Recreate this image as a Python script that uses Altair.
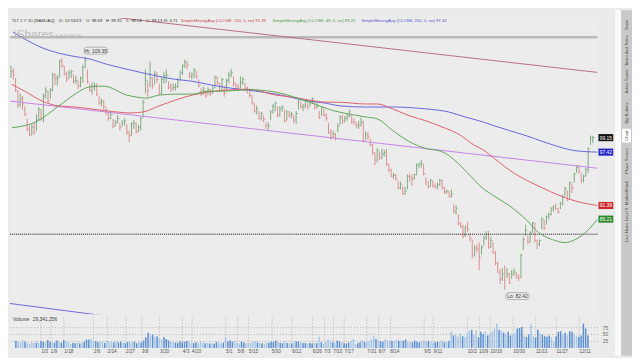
import altair as alt
import numpy as np
import pandas as pd

# ---------------- trading calendar (x categories) ----------------
HOLIDAYS = ["2022-12-26", "2023-01-02", "2023-01-16", "2023-02-20", "2023-04-07",
            "2023-05-29", "2023-06-19", "2023-07-04", "2023-09-04", "2023-11-23"]
DAYS = pd.bdate_range("2022-12-15", "2023-12-15")
DAYS = DAYS[~DAYS.isin(pd.to_datetime(HOLIDAYS))]

LABEL_DATES = ["2023-01-03", "2023-01-09", "2023-01-18", "2023-02-06", "2023-02-14", "2023-02-27",
               "2023-03-08", "2023-03-20", "2023-04-03", "2023-04-10", "2023-05-01", "2023-05-08",
               "2023-05-15", "2023-05-30", "2023-06-12", "2023-06-26", "2023-07-03", "2023-07-10",
               "2023-07-17", "2023-07-31", "2023-08-07", "2023-08-14", "2023-09-05", "2023-09-11",
               "2023-10-02", "2023-10-09", "2023-10-16", "2023-10-30", "2023-11-13", "2023-11-27",
               "2023-12-11"]

# ---------------- daily bars: high / low / close ----------------
HIGH_DEC22 = [108.2, 107.9, 106.6, 105.0, 104.6, 104.3, 103.0, 101.5, 100.6, 100.8, 100.9]
LOW_DEC22 = [106.6, 106.4, 104.8, 102.8, 102.9, 102.6, 101.8, 99.9, 99.3, 99.4, 99.5]
CLOSE_DEC22 = [107.4, 107.0, 105.0, 103.2, 104.0, 103.3, 102.0, 100.2, 99.5, 100.4, 99.8]

HIGH_JAN = [102.0, 102.9, 102.6, 104.6, 105.4, 104.9, 105.3, 107.3, 107.2, 107.0, 109.0, 109.2, 108.2, 107.4, 107.6, 107.7, 107.1, 106.9, 106.2, 106.8]
LOW_JAN = [100.0, 101.2, 101.2, 101.0, 104.0, 103.4, 103.9, 104.9, 105.7, 105.6, 106.7, 107.9, 106.9, 106.1, 106.5, 106.6, 105.9, 105.8, 105.2, 105.4]
CLOSE_JAN = [101.3, 102.6, 101.5, 104.3, 104.9, 103.7, 105.1, 107.0, 106.5, 106.6, 108.8, 108.2, 107.2, 106.5, 107.3, 107.4, 106.2, 106.3, 105.6, 106.6]

HIGH_FEB = [108.3, 109.35, 107.7, 105.8, 106.0, 106.0, 105.9, 104.3, 104.0, 103.8, 102.9, 102.3, 102.3, 101.4, 101.3, 101.9, 100.9, 101.3, 101.5]
LOW_FEB = [106.0, 107.9, 105.9, 104.8, 104.5, 105.0, 104.3, 103.2, 103.0, 102.6, 101.9, 101.2, 101.4, 100.3, 100.5, 100.9, 100.0, 100.5, 100.6]
CLOSE_FEB = [108.0, 108.9, 106.1, 105.0, 105.5, 105.6, 104.5, 103.4, 103.6, 103.0, 102.3, 101.5, 102.0, 100.5, 101.0, 101.5, 100.4, 101.0, 101.2]

HIGH_MAR = [100.8, 100.0, 101.0, 101.3, 101.0, 100.7, 101.7, 103.8, 107.7, 106.2, 108.8, 106.8, 107.5, 107.4, 105.9, 106.7, 107.4, 107.7, 106.2, 105.9, 105.9, 105.9, 106.6]
LOW_MAR = [99.5, 98.6, 99.4, 100.2, 99.6, 99.8, 100.0, 101.6, 104.6, 104.2, 105.4, 105.2, 105.8, 106.0, 104.4, 104.5, 105.9, 106.0, 105.1, 104.8, 105.0, 105.0, 105.3]
CLOSE_MAR = [99.8, 99.4, 100.8, 100.9, 99.9, 100.4, 101.5, 103.5, 106.3, 105.0, 106.6, 105.7, 107.1, 106.4, 104.6, 106.4, 106.9, 107.0, 105.4, 105.3, 105.4, 105.5, 106.4]

HIGH_APR = [107.6, 108.4, 109.0, 108.8, 107.4, 107.3, 107.9, 107.5, 106.4, 105.3, 105.5, 105.0, 105.4, 105.2, 105.6, 106.9, 106.8, 106.0, 106.6]
LOW_APR = [106.2, 107.0, 107.9, 107.7, 106.6, 106.4, 106.6, 106.5, 105.4, 104.3, 104.5, 104.1, 104.4, 104.3, 104.6, 105.3, 105.7, 104.8, 105.0]
CLOSE_APR = [107.3, 108.2, 108.7, 108.3, 106.8, 107.0, 107.6, 106.8, 105.6, 104.5, 105.2, 104.3, 105.1, 104.6, 105.3, 106.7, 106.0, 105.0, 106.4]

HIGH_MAY = [105.6, 106.5, 107.4, 107.8, 106.8, 106.0, 105.8, 106.8, 106.7, 106.0, 105.5, 105.0, 104.4, 103.4, 103.1, 102.4, 102.3, 101.9, 101.0, 101.0, 102.5, 103.3]
LOW_MAY = [104.2, 104.9, 105.9, 106.7, 105.5, 105.1, 104.9, 105.3, 105.7, 104.9, 104.6, 104.1, 103.2, 102.2, 102.0, 101.3, 101.2, 101.0, 100.2, 100.0, 101.3, 102.1]
CLOSE_MAY = [104.6, 106.3, 107.0, 107.3, 105.9, 105.6, 105.3, 106.0, 106.4, 105.3, 105.1, 104.4, 103.5, 102.4, 102.7, 101.5, 102.1, 101.4, 100.6, 100.6, 102.3, 103.0]

HIGH_JUN = [103.6, 103.0, 103.0, 103.1, 102.6, 102.5, 102.4, 102.3, 101.9, 102.4, 103.8, 103.6, 103.3, 103.8, 103.4, 103.8, 104.1, 103.6, 103.4, 102.4, 103.0]
LOW_JUN = [102.4, 101.6, 101.7, 102.3, 101.0, 101.2, 101.6, 101.5, 100.9, 100.8, 102.6, 102.7, 102.4, 102.8, 102.6, 103.0, 103.3, 102.6, 102.7, 101.4, 101.8]
CLOSE_JUN = [103.4, 101.9, 102.7, 102.9, 101.1, 102.3, 101.9, 102.0, 101.3, 102.1, 103.7, 102.9, 103.0, 103.6, 102.9, 103.6, 104.0, 102.8, 103.0, 101.6, 102.9]

HIGH_JUL = [102.7, 102.1, 100.9, 100.2, 100.0, 99.7, 100.9, 101.9, 101.9, 101.8, 102.1, 102.6, 101.9, 101.5, 101.0, 101.2, 101.6, 101.2, 99.9, 99.8]
LOW_JUL = [101.7, 101.2, 99.6, 98.9, 99.1, 98.8, 99.8, 100.7, 100.8, 101.0, 101.2, 101.6, 100.8, 100.7, 100.3, 100.2, 100.5, 98.6, 98.9, 98.9]
CLOSE_JUL = [101.9, 101.5, 99.8, 99.1, 99.6, 99.0, 100.5, 101.6, 101.2, 101.5, 101.8, 102.3, 101.1, 101.0, 100.6, 100.7, 101.0, 98.8, 99.6, 99.2]

HIGH_AUG = [99.0, 98.4, 97.4, 97.9, 97.5, 97.8, 97.7, 97.8, 96.1, 95.5, 95.0, 94.9, 94.1, 94.0, 93.5, 93.4, 94.8, 94.9, 94.8, 94.9, 96.1, 96.2, 96.5]
LOW_AUG = [98.1, 97.1, 95.9, 96.2, 96.5, 96.6, 96.9, 95.8, 95.1, 94.5, 94.3, 94.1, 93.1, 93.1, 92.5, 92.5, 93.1, 94.0, 93.5, 94.2, 94.7, 95.5, 95.6]
CLOSE_AUG = [98.3, 97.3, 96.5, 97.6, 96.7, 97.2, 97.4, 96.0, 95.3, 94.6, 94.7, 94.3, 93.3, 93.7, 92.6, 92.9, 94.6, 94.5, 94.3, 94.8, 95.9, 96.0, 96.1]

HIGH_SEP = [96.0, 94.5, 94.0, 94.3, 94.1, 93.8, 93.9, 94.3, 94.2, 93.4, 93.1, 92.9, 93.1, 91.4, 91.3, 90.3, 89.5, 89.2, 89.1, 89.5]
LOW_SEP = [94.7, 93.6, 93.2, 93.4, 93.3, 93.2, 93.1, 93.5, 93.1, 92.6, 92.6, 92.2, 92.2, 90.4, 90.3, 89.1, 88.8, 87.7, 87.9, 88.4]
CLOSE_SEP = [94.9, 94.0, 93.4, 94.1, 93.5, 93.4, 93.6, 94.1, 93.3, 92.8, 92.9, 92.3, 92.6, 90.6, 91.0, 89.3, 89.0, 88.0, 88.9, 88.7]

HIGH_OCT = [88.3, 87.6, 87.0, 87.1, 87.3, 87.0, 88.0, 88.5, 88.5, 87.9, 87.3, 86.4, 85.3, 84.5, 84.6, 84.9, 84.6, 84.1, 84.4, 84.6, 84.2, 84.0]
LOW_OCT = [87.4, 85.6, 85.8, 86.2, 84.4, 86.0, 87.0, 87.6, 86.6, 86.7, 86.1, 84.9, 84.1, 83.0, 83.3, 82.42, 83.6, 83.0, 83.5, 83.8, 83.5, 83.3]
CLOSE_OCT = [87.7, 86.0, 86.7, 86.6, 85.7, 86.8, 87.7, 88.2, 86.8, 87.5, 86.2, 85.1, 84.2, 83.5, 84.0, 83.4, 84.0, 83.1, 84.0, 84.2, 83.7, 83.6]

HIGH_NOV = [86.1, 87.9, 89.2, 88.0, 88.5, 89.5, 89.4, 87.6, 87.6, 90.0, 89.7, 90.2, 90.5, 91.1, 91.3, 91.5, 91.0, 91.7, 92.5, 93.4, 93.0]
LOW_NOV = [83.6, 86.5, 88.0, 87.1, 87.3, 88.3, 87.3, 86.6, 86.9, 88.7, 88.6, 89.2, 89.8, 90.2, 90.6, 90.8, 90.4, 90.9, 91.3, 92.4, 91.8]
CLOSE_NOV = [85.9, 87.6, 88.6, 87.3, 88.3, 89.4, 87.5, 87.1, 87.5, 89.8, 88.8, 90.1, 90.3, 91.0, 91.2, 91.0, 90.6, 91.5, 92.3, 93.2, 92.0]

HIGH_DEC = [94.0, 93.8, 95.0, 95.9, 95.9, 95.0, 94.8, 95.6, 98.0, 99.4, 99.35]
LOW_DEC = [92.0, 92.7, 93.9, 95.0, 94.9, 93.8, 93.9, 94.6, 95.0, 98.3, 98.5]
CLOSE_DEC = [93.9, 93.3, 94.9, 95.6, 95.2, 94.2, 94.6, 95.4, 97.8, 99.1, 99.15]

# ---------------- daily volume (millions) ----------------
VOL_DEC22 = [25, 22, 20, 27, 23, 18, 14, 20, 18, 19, 17]
VOL_JAN = [24, 22, 19, 28, 21, 20, 19, 27, 22, 19, 28, 24, 21, 15, 18, 17, 20, 16, 18, 22]
VOL_FEB = [30, 29, 32, 22, 24, 20, 22, 21, 18, 25, 22, 23, 19, 24, 20, 22, 18, 17, 21]
VOL_MAR = [24, 20, 22, 17, 23, 19, 26, 38, 55, 45, 48, 40, 42, 35, 30, 38, 32, 27, 22, 20, 19, 18, 24]
VOL_APR = [20, 22, 25, 22, 18, 17, 20, 18, 22, 19, 17, 18, 16, 17, 15, 22, 18, 17, 19]
VOL_MAY = [38, 24, 28, 22, 25, 17, 16, 23, 19, 18, 17, 18, 20, 24, 20, 18, 17, 16, 20, 18, 22, 21]
VOL_JUN = [26, 22, 18, 17, 22, 18, 17, 16, 20, 24, 23, 20, 18, 17, 16, 18, 16, 19, 17, 40, 20]
VOL_JUL = [14, 22, 30, 26, 20, 18, 27, 24, 20, 17, 16, 19, 22, 32, 15, 17, 20, 28, 22, 21]
VOL_AUG = [24, 30, 42, 32, 25, 24, 22, 30, 28, 26, 25, 24, 30, 26, 27, 25, 30, 22, 21, 20, 26, 22, 20]
VOL_SEP = [24, 25, 22, 26, 21, 19, 20, 22, 23, 27, 20, 22, 25, 58, 45, 48, 40, 52, 42, 38]
VOL_OCT = [55, 62, 65, 48, 62, 38, 58, 50, 60, 45, 52, 60, 70, 88, 65, 62, 55, 50, 58, 45, 50, 55]
VOL_NOV = [70, 72, 75, 45, 40, 48, 85, 42, 38, 65, 52, 48, 42, 40, 45, 38, 22, 42, 58, 60, 48]
VOL_DEC = [55, 45, 60, 58, 50, 42, 40, 45, 88, 70, 45]

# ---------------- moving averages ----------------
MA50_AT = [0.4, 10.9, 20.6, 27.7, 33.2, 37.4, 40.3, 50.0, 54.2, 58.4, 63.9, 71.0, 78.2, 84.9, 92.0,
           102.5, 114.3, 128.6, 139.5, 147.9, 152.9, 158.0, 164.7, 171.8, 179.0, 185.7, 192.9, 198.3,
           203.4, 208.4, 215.1, 222.3, 227.7, 233.6, 239.1, 243.3, 248.7, 253.0]
MA50_VAL = [100.35, 101.08, 103.04, 104.53, 105.41, 105.54, 105.54, 104.41, 104.16, 104.03, 104.41, 104.53,
            104.53, 104.91, 104.91, 105.1, 104.78, 103.53, 102.42, 101.93, 101.68, 101.44, 100.0, 98.68,
            97.85, 97.50, 96.10, 94.61, 93.26, 92.36, 91.26, 89.73, 88.33, 87.59, 87.28, 87.59, 88.55, 89.8]
MA100_AT = [0.4, 6.7, 13.4, 20.6, 27.7, 34.5, 41.6, 52.1, 57.1, 63.9, 71.0, 78.2, 84.9, 92.0, 102.5,
            114.3, 121.4, 128.6, 135.3, 142.4, 152.9, 158.0, 164.7, 171.8, 179.0, 185.7, 192.9, 200.0,
            203.4, 208.4, 215.1, 222.3, 229.4, 236.1, 243.3, 253.0]
MA100_VAL = [105.79, 104.78, 103.66, 103.04, 102.91, 102.67, 102.42, 102.17, 102.30, 103.04, 103.78, 104.41,
             104.78, 105.03, 105.16, 104.41, 104.16, 103.78, 103.53, 103.5, 103.29, 103.29, 102.67, 101.82,
             101.20, 100.47, 99.61, 98.22, 97.73, 96.70, 95.30, 94.16, 93.26, 92.47, 91.81, 91.3]
MA200_AT = [0.8, 13.4, 27.7, 33.2, 41.6, 52.1, 63.9, 71.0, 78.2, 84.9, 92.0, 102.5, 114.3, 128.6, 135.3,
            142.4, 152.9, 164.7, 179.0, 188.7, 195.8, 203.4, 208.4, 215.1, 222.3, 229.4, 236.1, 243.3, 253.0]
MA200_VAL = [112.74, 110.60, 109.41, 109.15, 108.37, 107.60, 106.81, 106.43, 106.18, 105.79, 105.41, 105.03,
             104.53, 103.66, 103.41, 103.04, 102.91, 102.91, 102.67, 102.30, 101.68, 101.08, 100.59, 100.0,
             99.38, 98.68, 98.08, 97.59, 97.42]

# ---------------- drawn trend lines / levels ----------------
TREND_PURPLE_AT = [-0.42, 253.0]
TREND_PURPLE_VAL = [103.66, 95.53]
TREND_DARKRED_AT = [-0.42, 253.0]
TREND_DARKRED_VAL = [116.44, 107.33]
TREND_BLUE_AT = [-0.42, 41.6]
TREND_BLUE_VAL = [81.05, 79.81]
LEVEL_GRAY = 112.0
LEVEL_DOTTED = 88.17

Y_TICKS = [113.42, 111.4, 109.48, 107.48, 105.54, 103.66, 101.82, 100, 98.22, 96.47, 94.75, 93.06,
           91.39, 89.77, 88.17, 86.6, 85.05, 83.54, 82.05, 80.58]

ANNOT_TEXT = ["Hi: 109.35", "Lo: 82.42"]
ANNOT_AT = [36.6, 218.5]
ANNOT_PRICE = [110.2, 81.78]

TAG_TEXT = ["99.15", "97.42", "91.39", "89.21"]
TAG_PRICE = [99.15, 97.42, 91.3, 89.8]

HEADER_ITEMS = ["TLT 1 Y 1D [NASDAQ]", "D: 12/13/23", "O: 98.69", "H: 99.35", "L: 98.58", "C: 99.13", "R: 0.71"]
HEADER_X = [2, 50, 77, 97, 118, 138, 156]
HEADER_MA = ["SimpleMovingAvg (CLOSE, 100, 0, no)  91.39",
             "SimpleMovingAvg (CLOSE, 49, 0, no)  89.21",
             "SimpleMovingAvg (CLOSE, 200, 0, no)  97.42"]
HEADER_MA_X = [173, 266, 356]
TABS = ["Trade", "Times And Sales", "Active Trader", "Big Buttons", "Chart", "Phase Scores",
        "MarketWatch", "Level II", "Live News"]
TAB_Y = [7, 33, 64, 96, 119, 145, 177, 199, 217]
VOLUME_TEXT = "29,341,256"

# ---------------- assemble ----------------
HIGH = HIGH_DEC22 + HIGH_JAN + HIGH_FEB + HIGH_MAR + HIGH_APR + HIGH_MAY + HIGH_JUN + HIGH_JUL + HIGH_AUG + HIGH_SEP + HIGH_OCT + HIGH_NOV + HIGH_DEC
LOW = LOW_DEC22 + LOW_JAN + LOW_FEB + LOW_MAR + LOW_APR + LOW_MAY + LOW_JUN + LOW_JUL + LOW_AUG + LOW_SEP + LOW_OCT + LOW_NOV + LOW_DEC
CLOSE = CLOSE_DEC22 + CLOSE_JAN + CLOSE_FEB + CLOSE_MAR + CLOSE_APR + CLOSE_MAY + CLOSE_JUN + CLOSE_JUL + CLOSE_AUG + CLOSE_SEP + CLOSE_OCT + CLOSE_NOV + CLOSE_DEC
VOLUME = VOL_DEC22 + VOL_JAN + VOL_FEB + VOL_MAR + VOL_APR + VOL_MAY + VOL_JUN + VOL_JUL + VOL_AUG + VOL_SEP + VOL_OCT + VOL_NOV + VOL_DEC

n = min(len(DAYS), len(HIGH), len(LOW), len(CLOSE), len(VOLUME))
df = pd.DataFrame({"i": np.arange(n), "high": HIGH[:n], "low": LOW[:n], "close": CLOSE[:n], "vol": VOLUME[:n]})
prev = df["close"].shift(1).fillna(df["close"])
df["dir"] = np.where(df["close"] >= prev, "up", "down")

day_list = list(DAYS[:n])
tick_idx, tick_txt = [], []
for d in LABEL_DATES:
    ts = pd.Timestamp(d)
    if ts in day_list:
        tick_idx.append(day_list.index(ts))
        tick_txt.append(f"{ts.month}/{ts.day}")
label_expr = "''"
for k, t in zip(reversed(tick_idx), reversed(tick_txt)):
    label_expr = f"datum.value == {k} ? '{t}' : ({label_expr})"

# ---------------- styling ----------------
PRICE_W, PRICE_H, VOL_H = 595, 300, 32
X_DOMAIN = [-0.42, 253.0]
Y_DOMAIN = [79.99, 114.65]
UP, DOWN = "#7fa97f", "#dd8e90"
FONT = "Liberation Sans"
GRID = "#b4b4b4"


def xs():
    return alt.Scale(domain=X_DOMAIN, nice=False, zero=False)


def ys():
    return alt.Scale(type="log", domain=Y_DOMAIN, nice=False)


one = pd.DataFrame({"a": [0]})

price_xaxis = alt.Axis(values=tick_idx, labels=False, ticks=False, domain=False, grid=True,
                       gridDash=[1, 2], gridColor=GRID, title=None)
price_yaxis = alt.Axis(orient="right", values=Y_TICKS, format=".5~r", labelFontSize=5.5,
                       labelColor="#555555", ticks=False, domain=False, grid=True, gridDash=[1, 2],
                       gridColor=GRID, labelPadding=3, title=None)

bars = alt.Chart(df).mark_rule(strokeWidth=1).encode(
    x=alt.X("i:Q", scale=xs(), axis=price_xaxis),
    y=alt.Y("low:Q", scale=ys(), axis=price_yaxis),
    y2="high:Q",
    color=alt.Color("dir:N", scale=alt.Scale(domain=["up", "down"], range=[UP, DOWN]), legend=None),
)
ticks = alt.Chart(df).mark_tick(orient="horizontal", size=2, thickness=1, xOffset=1).encode(
    x=alt.X("i:Q", scale=xs(), axis=None),
    y=alt.Y("close:Q", scale=ys(), axis=None),
    color=alt.Color("dir:N", scale=alt.Scale(domain=["up", "down"], range=[UP, DOWN]), legend=None),
)


def line_layer(at, val, color, width=1.0, interp="monotone"):
    d = pd.DataFrame({"i": at, "p": val})
    return alt.Chart(d).mark_line(color=color, strokeWidth=width, clip=True, interpolate=interp).encode(
        x=alt.X("i:Q", scale=xs(), axis=None),
        y=alt.Y("p:Q", scale=ys(), axis=None),
    )


ma50 = line_layer(MA50_AT, MA50_VAL, "#5fa55a")
ma100 = line_layer(MA100_AT, MA100_VAL, "#dd5f6a")
ma200 = line_layer(MA200_AT, MA200_VAL, "#6565dd")
tr_purple = line_layer(TREND_PURPLE_AT, TREND_PURPLE_VAL, "#c584e8", interp="linear")
tr_darkred = line_layer(TREND_DARKRED_AT, TREND_DARKRED_VAL, "#b8707c", interp="linear")
tr_blue = line_layer(TREND_BLUE_AT, TREND_BLUE_VAL, "#6a6ad8", interp="linear")

lvl_gray = alt.Chart(pd.DataFrame({"p": [LEVEL_GRAY]})).mark_rule(color="#b9b9b9", strokeWidth=2.5).encode(
    y=alt.Y("p:Q", scale=ys(), axis=None))
lvl_dot = alt.Chart(pd.DataFrame({"p": [LEVEL_DOTTED]})).mark_rule(color="#111111", strokeWidth=1,
                                                                   strokeDash=[1, 1]).encode(
    y=alt.Y("p:Q", scale=ys(), axis=None))

ann = pd.DataFrame({"t": ANNOT_TEXT, "i": ANNOT_AT, "p": ANNOT_PRICE})
ann["i1"] = ann["i"] - 5.0
ann["i2"] = ann["i"] + 5.0
ann["p1"] = ann["p"] * np.exp(3.5 / 833.3)
ann["p2"] = ann["p"] * np.exp(-3.5 / 833.3)
ann_box = alt.Chart(ann).mark_rect(fill="#ececec", stroke="#9a9a9a", strokeWidth=0.7, cornerRadius=2).encode(
    x=alt.X("i1:Q", scale=xs(), axis=None), x2="i2:Q",
    y=alt.Y("p1:Q", scale=ys(), axis=None), y2="p2:Q")
ann_txt = alt.Chart(ann).mark_text(fontSize=5, color="#333333", font=FONT).encode(
    x=alt.X("i:Q", scale=xs(), axis=None), y=alt.Y("p:Q", scale=ys(), axis=None), text="t:N")

TAG_COLORS = ["#111111", "#2323c8", "#cc2a2a", "#2a8a2a"]
tag_layers = []
for t, p, c in zip(TAG_TEXT, TAG_PRICE, TAG_COLORS):
    td = pd.DataFrame({"t": [t], "p": [p], "p1": [p * np.exp(3.6 / 833.3)], "p2": [p * np.exp(-3.6 / 833.3)]})
    tag_layers.append(alt.Chart(td).mark_rect(fill=c).encode(
        x=alt.value(596), x2=alt.value(611),
        y=alt.Y("p1:Q", scale=ys(), axis=None), y2="p2:Q"))
    tag_layers.append(alt.Chart(td).mark_text(fontSize=5, color="white", font=FONT).encode(
        x=alt.value(603.5), y=alt.Y("p:Q", scale=ys(), axis=None), text="t:N"))

# chrome: header, watermark, sidebar
chrome = []
for txt, xpos in zip(HEADER_ITEMS, HEADER_X):
    chrome.append(alt.Chart(one).mark_text(text=txt, fontSize=4.3, color="#333333", align="left",
                                           baseline="top", font=FONT).encode(
        x=alt.value(xpos), y=alt.value(0.5)))
for txt, xpos, col in zip(HEADER_MA, HEADER_MA_X, ["#c9474f", "#4f9a4a", "#5353cc"]):
    chrome.append(alt.Chart(one).mark_text(text=txt, fontSize=4.3, color=col, align="left",
                                           baseline="top", font=FONT).encode(
        x=alt.value(xpos), y=alt.value(0.5)))
chrome.append(alt.Chart(one).mark_text(text="iShares", fontSize=12, color="#b9b9b9", align="left",
                                       baseline="alphabetic", font=FONT).encode(
    x=alt.value(4), y=alt.value(20)))
chrome.append(alt.Chart(one).mark_text(text="by BLACKROCK", fontSize=3.5, color="#b0b0b0", align="left",
                                       baseline="alphabetic", font=FONT).encode(
    x=alt.value(46), y=alt.value(19)))
chrome.append(alt.Chart(one).mark_rect(fill="#fafafa").encode(
    x=alt.value(613), x2=alt.value(619), y=alt.value(-8), y2=alt.value(342)))
chrome.append(alt.Chart(one).mark_rect(fill="#c9c9c9").encode(
    x=alt.value(619), x2=alt.value(630), y=alt.value(-8), y2=alt.value(342)))
chrome.append(alt.Chart(one).mark_rect(fill="#ffffff").encode(
    x=alt.value(620), x2=alt.value(629), y=alt.value(112), y2=alt.value(126)))
for t, yy in zip(TABS, TAB_Y):
    chrome.append(alt.Chart(one).mark_text(text=t, fontSize=4.2, color="#444444", angle=270,
                                           font=FONT).encode(x=alt.value(624.5), y=alt.value(yy)))

price = alt.layer(
    bars, lvl_gray, lvl_dot, tr_darkred, tr_purple, tr_blue, ma200, ma100, ma50, ticks,
    ann_box, ann_txt, *tag_layers, *chrome
).properties(width=PRICE_W, height=PRICE_H)

# ---------------- volume pane ----------------
vol_xaxis = alt.Axis(values=tick_idx, labelExpr=label_expr, labelFontSize=4.8, labelColor="#555555",
                     labelAlign="left", labelBaseline="top", labelPadding=1, ticks=False, domain=False,
                     grid=True, gridDash=[1, 2], gridColor=GRID, labelOverlap=False, labelFlush=False,
                     labelBound=False, title=None)
vol_yaxis = alt.Axis(orient="right", values=[25, 50, 75], labelFontSize=5, labelColor="#666666",
                     ticks=False, domain=False, grid=True, gridDash=[1, 2], gridColor=GRID,
                     labelPadding=5, title=None)
vbars = alt.Chart(df).mark_bar(width=1.5).encode(
    x=alt.X("i:Q", scale=xs(), axis=vol_xaxis),
    y=alt.Y("vol:Q", scale=alt.Scale(domain=[0, 114], nice=False), axis=vol_yaxis),
    color=alt.Color("dir:N", scale=alt.Scale(domain=["up", "down"], range=["#5b8fd2", "#a6c6e8"]),
                    legend=None),
)
vlab1 = alt.Chart(one).mark_text(text="Volume", fontSize=5, color="#444444", align="left",
                                 baseline="top", font=FONT).encode(x=alt.value(3), y=alt.value(1))
vlab2 = alt.Chart(one).mark_text(text=VOLUME_TEXT, fontSize=5, color="#444444", align="left",
                                 baseline="top", font=FONT).encode(x=alt.value(23), y=alt.value(1))
volume = alt.layer(vbars, vlab1, vlab2).properties(width=PRICE_W, height=VOL_H)

chart = alt.vconcat(price, volume, spacing=2, bounds="flush").resolve_scale(
    y="independent", color="independent"
).properties(padding=0, background="#ebebeb").configure(font=FONT).configure_view(
    strokeWidth=0, fill="#ececec")

chart.save("out.html", embed_options={"renderer": "svg", "actions": False})
